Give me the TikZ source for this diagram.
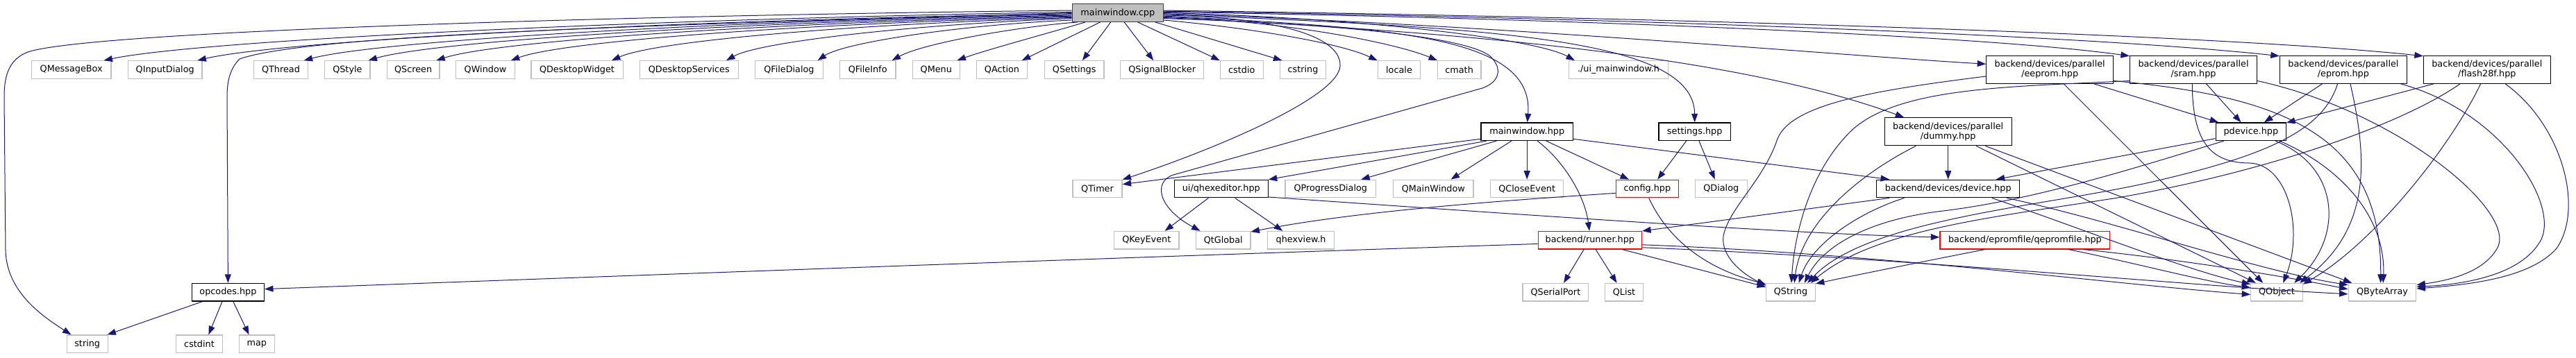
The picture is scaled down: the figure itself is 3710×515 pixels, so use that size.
\documentclass[tikz,border=0pt]{standalone}
\usepackage{fontspec}
\setmainfont{DejaVu Sans}
\usetikzlibrary{arrows.meta}
\definecolor{edgec}{HTML}{191970}
\definecolor{extc}{HTML}{BFBFBF}
\definecolor{mainfill}{HTML}{BFBFBF}
\definecolor{mainborder}{HTML}{404040}
\begin{document}
\begin{tikzpicture}[x=1pt,y=-1pt,font=\fontsize{12.8}{14.2}\selectfont,
  box/.style={rectangle,line width=1.2pt,fill=white,minimum height=25.6pt,inner sep=0pt,align=center},
  ext/.style={box,draw=extc},
  doc/.style={box,draw=black},
  trunc/.style={box,draw=red},
  rootbox/.style={box,draw=mainborder,fill=mainfill},
  two/.style={minimum height=40pt},
  e/.style={draw=edgec,line width=1pt,-{Triangle[length=12.5pt,width=9pt]}}]
\useasboundingbox (0,0) rectangle (3710,515);

% ---------- nodes ----------
\node[rootbox,minimum width=131pt] (main) at (1609.8,18.5) {mainwindow.cpp};

\node[ext,minimum width=114.7pt] (msgbox) at (102.7,100.5) {QMessageBox};
\node[ext,minimum width=106.5pt] (inputdlg) at (237.7,100.5) {QInputDialog};
\node[ext,minimum width=77.6pt] (thread) at (404.5,100.5) {QThread};
\node[ext,minimum width=65.3pt] (style) at (500.4,100.5) {QStyle};
\node[ext,minimum width=75.9pt] (screen) at (595.1,100.5) {QScreen};
\node[ext,minimum width=84.5pt] (window) at (699,100.5) {QWindow};
\node[ext,minimum width=132.2pt] (deskwid) at (831,100.5) {QDesktopWidget};
\node[ext,minimum width=142pt] (desksrv) at (992.3,100.5) {QDesktopServices};
\node[ext,minimum width=98pt] (filedlg) at (1136.4,100.5) {QFileDialog};
\node[ext,minimum width=80.6pt] (fileinfo) at (1249.7,100.5) {QFileInfo};
\node[ext,minimum width=68pt] (menu) at (1348.3,100.5) {QMenu};
\node[ext,minimum width=73.4pt] (action) at (1443,100.5) {QAction};
\node[ext,minimum width=85.7pt] (qsettings) at (1547.2,100.5) {QSettings};
\node[ext,minimum width=120pt] (sigblk) at (1673.7,100.5) {QSignalBlocker};
\node[ext,minimum width=61.7pt] (cstdio) at (1788.3,100.5) {cstdio};
\node[ext,minimum width=66.7pt] (cstring) at (1876.5,100.5) {cstring};
\node[ext,minimum width=61.2pt] (locale) at (2015,100.5) {locale};
\node[ext,minimum width=62.8pt] (cmath) at (2101.6,100.5) {cmath};
\node[ext,minimum width=142.9pt] (uimain) at (2331,100.5) {./ui\_mainwindow.h};
\node[doc,two,minimum width=182.8pt] (eeprom) at (2952.2,100.3) {backend/devices/parallel\\/eeprom.hpp};
\node[doc,two,minimum width=183pt] (sram) at (3159,100.3) {backend/devices/parallel\\/sram.hpp};
\node[doc,two,minimum width=183pt] (eprom) at (3374.9,100.3) {backend/devices/parallel\\/eprom.hpp};
\node[doc,two,minimum width=182.7pt] (flash) at (3581.8,100.3) {backend/devices/parallel\\/flash28f.hpp};

\node[doc,minimum width=132.3pt] (mwhpp) at (2199.2,189.7) {mainwindow.hpp};
\node[doc,minimum width=103.3pt] (settings) at (2440.7,189.7) {settings.hpp};
\node[doc,two,minimum width=182.9pt] (dummy) at (2805.7,189.8) {backend/devices/parallel\\/dummy.hpp};
\node[doc,minimum width=101.2pt] (pdevice) at (3241.8,189.7) {pdevice.hpp};

\node[ext,minimum width=71pt] (qtimer) at (1580.5,272) {QTimer};
\node[doc,minimum width=134.7pt] (qhex) at (1758.8,272) {ui/qhexeditor.hpp};
\node[ext,minimum width=130.6pt] (progdlg) at (1916.3,272) {QProgressDialog};
\node[ext,minimum width=115.5pt] (mainwin) at (2064.3,272) {QMainWindow};
\node[ext,minimum width=105.3pt] (closeev) at (2199.2,272) {QCloseEvent};
\node[trunc,minimum width=89.8pt] (config) at (2372.3,272) {config.hpp};
\node[ext,minimum width=75pt] (qdialog) at (2478.8,272) {QDialog};
\node[doc,minimum width=205.7pt] (device) at (2805.7,272) {backend/devices/device.hpp};

\node[ext,minimum width=93.3pt] (keyev) at (1651.3,346.2) {QKeyEvent};
\node[ext,minimum width=78.4pt] (qtglobal) at (1761.7,346.2) {QtGlobal};
\node[ext,minimum width=96pt] (qhexview) at (1873.6,346.2) {qhexview.h};
\node[trunc,minimum width=149.4pt] (runner) at (2289.8,346.2) {backend/runner.hpp};
\node[trunc,minimum width=244.9pt] (qepf) at (2916.4,346.2) {backend/epromfile/qepromfile.hpp};

\node[doc,minimum width=104pt] (opcodes) at (328.4,421.2) {opcodes.hpp};
\node[ext,minimum width=94.7pt] (serial) at (2240.4,421.2) {QSerialPort};
\node[ext,minimum width=55.1pt] (qlist) at (2339,421.2) {QList};
\node[ext,minimum width=70.6pt] (qstring) at (2579,421.2) {QString};
\node[ext,minimum width=74.4pt] (qobject) at (3279,421.2) {QObject};
\node[ext,minimum width=97.7pt] (qba) at (3431,421.2) {QByteArray};

\node[ext,minimum width=58.8pt] (string) at (125.7,495.8) {string};
\node[ext,minimum width=67pt] (cstdint) at (287,495.8) {cstdint};
\node[ext,minimum width=50.6pt] (map) at (369.8,495.8) {map};

% ---------- edges from mainwindow.cpp ----------
\draw[e] (main.177) .. controls (900,22) and (130,45) .. (40,75) .. controls (15,85) and (6,105) .. (6,140) -- (8,360) .. controls (9,420) and (60,455) .. (string.150);
\draw[e] (main.179) .. controls (915,28) and (287,58) .. (msgbox.16);
\draw[e] (main.180) .. controls (1000,35) and (450,48) .. (345,85) .. controls (330,100) and (327,120) .. (327,140) -- (opcodes.north);
\draw[e] (main.181) .. controls (976,29) and (408,58) .. (inputdlg.16);
\draw[e] (main.182) .. controls (1046,30) and (547,58) .. (thread.22);
\draw[e] (main.183) .. controls (1087,31) and (630,58) .. (style.24);
\draw[e] (main.184) .. controls (1131,32) and (718,58) .. (screen.22);
\draw[e] (main.185) .. controls (1180,33) and (815,58) .. (window.20);
\draw[e] (main.186) .. controls (1245,34) and (946,58) .. (deskwid.15);
\draw[e] (main.187) .. controls (1319,35) and (1094,60) .. (desksrv.14);
\draw[e] (main.189) .. controls (1379,36) and (1214,62) .. (filedlg.18);
\draw[e] (main.193) .. controls (1470,38) and (1330,62) .. (fileinfo.21);
\draw[e] (main.196) .. controls (1520,45) and (1420,72) .. (menu.24);
\draw[e] (main.208) -- (action.25);
\draw[e] (main.233) -- (qsettings.49);
\draw[e] (main.-55) -- (sigblk.133);
\draw[e] (main.-25) -- (cstdio.157);
\draw[e] (main.-14) -- (cstring.156);
\draw[e] (main.-9) .. controls (1800,40) and (1930,62) .. (locale.157);
\draw[e] (main.-5) .. controls (1850,30) and (2010,62) .. (cmath.157);
\draw[e] (main.0) .. controls (1950,25) and (2210,55) .. (uimain.168);
\draw[e] (main.-4) .. controls (2000,40) and (2210,50) .. (mwhpp.88);
\draw[e] (main.-2) .. controls (2150,40) and (2440,55) .. (settings.90);
\draw[e] (main.-1) .. controls (2150,35) and (2650,80) .. (eeprom.175);
\draw[e] (main.1) .. controls (2200,25) and (2850,50) .. (sram.168);
\draw[e] (main.2) .. controls (2300,25) and (3000,50) .. (eprom.168);
\draw[e] (main.3) .. controls (2400,25) and (3200,50) .. (flash.168);
\draw[e] (main.-6) .. controls (2100,45) and (2500,80) .. (dummy.162);
\draw[e] (main.-3) .. controls (1850,25) and (1932,55) .. (1930,95) .. controls (1928,140) and (1750,215) .. (qtimer.20);
\draw[e] (main.-7) .. controls (1950,35) and (2110,55) .. (2145,80) .. controls (2165,98) and (2160,118) .. (2135,127) -- (1690,252) .. controls (1660,262) and (1668,300) .. (qtglobal.158);

% ---------- mainwindow.hpp ----------
\draw[e] (mwhpp.189) -- (qtimer.10);
\draw[e] (mwhpp.193) -- (qhex.11);
\draw[e] (mwhpp.197) -- (progdlg.17);
\draw[e] (mwhpp.211) -- (mainwin.28);
\draw[e] (mwhpp.south) -- (closeev.north);
\draw[e] (mwhpp.-42) .. controls (2250,230) and (2282,280) .. (runner.93);
\draw[e] (mwhpp.-26) -- (config.153);
\draw[e] (mwhpp.-9) -- (device.171);

% ---------- settings.hpp ----------
\draw[e] (settings.228) -- (config.42);
\draw[e] (settings.-65) -- (qdialog.124);

% ---------- ui/qhexeditor.hpp ----------
\draw[e] (qhex.216) -- (keyev.27);
\draw[e] (qhex.-34) -- (qhexview.153);
\draw[e] (qhex.-10) .. controls (2200,310) and (2600,338) .. (qepf.178);

% ---------- config.hpp ----------
\draw[e] (config.188) .. controls (2150,290) and (1950,305) .. (qtglobal.17);
\draw[e] (config.-80) .. controls (2400,340) and (2450,385) .. (qstring.162);

% ---------- backend/runner.hpp ----------
\draw[e] (runner.184) .. controls (1500,375) and (700,405) .. (opcodes.5);
\draw[e] (runner.237) -- (serial.49);
\draw[e] (runner.-58) -- (qlist.128);
\draw[e] (runner.-16) -- (qstring.168);
\draw[e] (runner.-5) .. controls (2700,365) and (3050,410) .. (qobject.185);
\draw[e] (runner.-8) .. controls (2750,372) and (3150,412) .. (qba.183);

% ---------- opcodes.hpp ----------
\draw[e] (opcodes.200) -- (string.25);
\draw[e] (opcodes.238) -- (cstdint.45);
\draw[e] (opcodes.-61) -- (map.130);

% ---------- device.hpp ----------
\draw[e] (device.189) -- (runner.10);
\draw[e] (device.192) .. controls (2680,305) and (2610,350) .. (qstring.49);
\draw[e] (device.-12) .. controls (3000,330) and (3150,390) .. (qobject.163);
\draw[e] (device.-9) .. controls (3050,320) and (3250,390) .. (qba.168);

% ---------- dummy.hpp ----------
\draw[e] (dummy.south) -- (device.north);
\draw[e] (dummy.204) .. controls (2680,250) and (2595,320) .. (qstring.69);
\draw[e] (dummy.-27) -- (qobject.156);
\draw[e] (dummy.-21) -- (qba.163);

% ---------- pdevice.hpp ----------
\draw[e] (pdevice.191) -- (device.11);
\draw[e] (pdevice.199) .. controls (3050,250) and (2920,290) .. (2790,305) .. controls (2690,318) and (2625,355) .. (qstring.34);
\draw[e] (pdevice.-21) .. controls (3370,240) and (3375,340) .. (qobject.28);
\draw[e] (pdevice.-18) .. controls (3380,245) and (3436,320) .. (qba.85);

% ---------- eeprom.hpp ----------
\draw[e] (eeprom.-18) -- (pdevice.164);
\draw[e] (eeprom.186) .. controls (2700,130) and (2580,150) .. (2560,200) .. controls (2540,260) and (2490,300) .. (2482,340) .. controls (2478,370) and (2510,395) .. (qstring.165);
\draw[e] (eeprom.-46) -- (qobject.146);
\draw[e] (eeprom.-10) .. controls (3300,140) and (3430,200) .. (qba.100);

% ---------- sram.hpp ----------
\draw[e] (sram.-48) -- (pdevice.137);
\draw[e] (sram.190) .. controls (2900,125) and (2740,125) .. (2670,185) .. controls (2610,240) and (2585,330) .. (qstring.86);
\draw[e] (sram.-95) .. controls (3158,200) and (3180,235) .. (3240,235) .. controls (3295,237) and (3318,330) .. (qobject.55);
\draw[e] (sram.-10) .. controls (3450,160) and (3620,300) .. (3598,355) .. controls (3578,395) and (3520,405) .. (qba.12);

% ---------- eprom.hpp ----------
\draw[e] (eprom.214) -- (pdevice.35);
\draw[e] (eprom.-112) .. controls (3345,190) and (3260,225) .. (3100,262) .. controls (2950,297) and (2690,315) .. (qstring.29);
\draw[e] (eprom.-64) .. controls (3410,230) and (3415,330) .. (qobject.22);
\draw[e] (eprom.-14) .. controls (3600,160) and (3685,290) .. (3660,345) .. controls (3632,398) and (3545,410) .. (qba.9);

% ---------- flash28f.hpp ----------
\draw[e] (flash.195) -- (pdevice.14);
\draw[e] (flash.208) .. controls (3450,185) and (3250,250) .. (3050,285) .. controls (2880,312) and (2700,330) .. (qstring.25);
\draw[e] (flash.-114) .. controls (3530,210) and (3420,350) .. (qobject.17);
\draw[e] (flash.-38) .. controls (3690,180) and (3722,300) .. (3682,358) .. controls (3645,400) and (3560,410) .. (qba.6);

% ---------- qepromfile.hpp ----------
\draw[e] (qepf.193) .. controls (2780,375) and (2680,395) .. (qstring.19);
\draw[e] (qepf.-12) .. controls (3080,380) and (3170,405) .. (qobject.170);
\draw[e] (qepf.-9) .. controls (3150,375) and (3300,400) .. (qba.175);
\end{tikzpicture}
\end{document}
